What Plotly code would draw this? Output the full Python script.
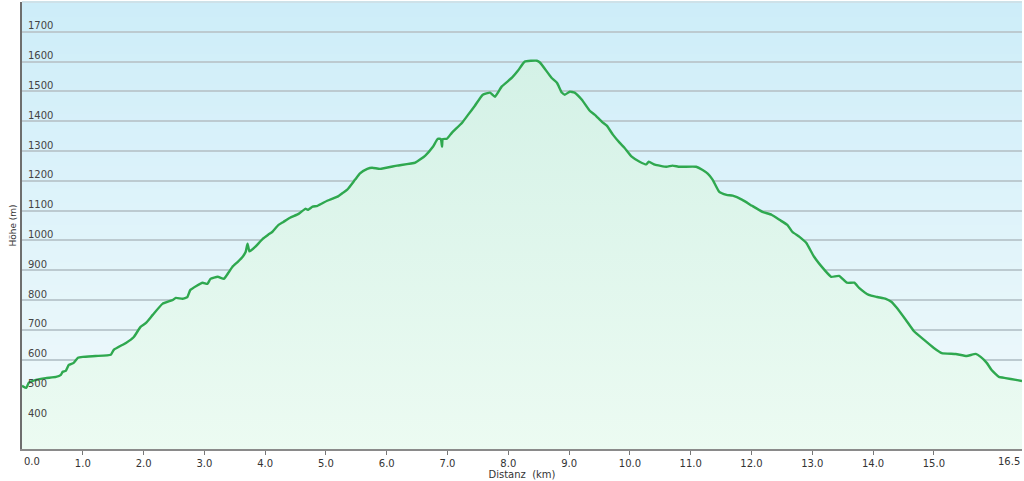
import plotly.graph_objects as go

distance_km = [
    0.00, 0.07, 0.11, 0.23, 0.39, 0.56, 0.64, 0.67, 0.72, 0.77, 0.85, 0.92, 1.00,
    1.21, 1.46, 1.51, 1.71, 1.84, 1.95, 2.04, 2.15, 2.31, 2.48, 2.53, 2.64, 2.72,
    2.77, 2.97, 3.05, 3.10, 3.22, 3.32, 3.35, 3.46, 3.55, 3.63, 3.68, 3.71, 3.74,
    3.76, 3.84, 3.96, 4.05, 4.12, 4.22, 4.30, 4.41, 4.55, 4.66, 4.71, 4.78, 4.86,
    5.02, 5.19, 5.28, 5.35, 5.48, 5.56, 5.68, 5.76, 5.89, 6.17, 6.47, 6.63, 6.76,
    6.84, 6.89, 6.91, 6.92, 6.99, 7.07, 7.24, 7.34, 7.45, 7.58, 7.70, 7.78, 7.89,
    8.06, 8.16, 8.27, 8.47, 8.52, 8.71, 8.80, 8.88, 8.93, 9.01, 9.09, 9.21, 9.34,
    9.42, 9.54, 9.62, 9.72, 9.83, 9.91, 10.03, 10.16, 10.27, 10.31, 10.41, 10.60,
    10.70, 10.82, 11.09, 11.19, 11.28, 11.36, 11.47, 11.59, 11.69, 11.85, 12.01,
    12.18, 12.33, 12.46, 12.59, 12.67, 12.79, 12.90, 13.03, 13.20, 13.31, 13.44,
    13.57, 13.69, 13.77, 13.93, 14.07, 14.21, 14.30, 14.39, 14.54, 14.67, 14.84,
    15.00, 15.13, 15.36, 15.54, 15.69, 15.77, 15.87, 15.95, 16.07, 16.18, 16.35,
    16.45,
]
elevation_m = [
    512, 505, 522, 532, 538, 542, 549, 559, 562, 582, 589, 606, 609,
    612, 616, 633, 656, 676, 710, 723, 750, 787, 800, 807, 804, 810,
    834, 858, 854, 871, 878, 871, 878, 911, 928, 945, 962, 989, 963,
    965, 979, 1005, 1019, 1029, 1052, 1062, 1076, 1089, 1106, 1103, 1113, 1116,
    1133, 1147, 1160, 1170, 1204, 1225, 1240, 1244, 1240, 1251, 1261, 1284, 1314,
    1341, 1340, 1314, 1340, 1341, 1361, 1395, 1422, 1452, 1489, 1496, 1482, 1516,
    1546, 1570, 1600, 1603, 1597, 1546, 1529, 1496, 1489, 1499, 1496, 1472, 1435,
    1422, 1398, 1385, 1355, 1328, 1311, 1281, 1264, 1255, 1264, 1254, 1247,
    1251, 1247, 1247, 1237, 1224, 1204, 1163, 1153, 1150, 1136, 1116,
    1096, 1086, 1069, 1052, 1029, 1012, 992, 945, 901, 878, 881,
    858, 858, 841, 817, 810, 804, 794, 774, 733, 696, 666,
    639, 622, 619, 612, 619, 609, 589, 565, 542, 538, 532,
    528,
]

x_tick_values = [float(v) for v in range(0, 16)]
x_tick_labels = [f"{v:.1f}" for v in x_tick_values]
x_end_value = 16.45
x_end_label = "16.5"
y_tick_values = list(range(400, 1800, 100))
y_tick_labels = [str(v) for v in y_tick_values]

X_RANGE = [0, 16.45]
Y_RANGE = [300, 1800]

fig = go.Figure()

fig.add_trace(go.Scatter(
    x=distance_km,
    y=elevation_m,
    mode="lines",
    line=dict(color="#2fa84f", width=2.4, shape="spline", smoothing=0.4),
    fill="tozeroy",
    fillgradient=dict(
        type="vertical",
        start=300,
        stop=1650,
        colorscale=[[0, "#ecfbf2"], [1, "#d3f1e6"]],
    ),
    hoverinfo="x+y",
    showlegend=False,
))

# background gradient (light blue at top fading toward the bottom)
def lerp(c1, c2, t):
    return "#%02x%02x%02x" % tuple(round(a + (b - a) * t) for a, b in zip(c1, c2))

top_c = (0xcd, 0xed, 0xf9)
bot_c = (0xf2, 0xfa, 0xfb)
n = 60
shapes = []
for i in range(n):
    y0 = i / n
    y1 = (i + 1) / n
    frac = (i + 0.5) / n
    shapes.append(dict(
        type="rect", xref="x domain", yref="y domain",
        x0=0, x1=1, y0=y0, y1=y1 + 0.002,
        fillcolor=lerp(bot_c, top_c, frac), line=dict(width=0), layer="below",
    ))
# top border
shapes.append(dict(type="line", xref="x domain", yref="y domain",
                   x0=0, x1=1, y0=1, y1=1, line=dict(color="#cfd6d9", width=1)))

# first and last x labels are drawn as annotations (edge labels)
edge_labels = [
    dict(text=x_tick_labels[0], x=x_tick_values[0], xanchor="left"),
    dict(text=x_end_label, x=x_end_value, xanchor="right"),
]
annotations = [
    dict(text=e["text"], xref="x", yref="paper", x=e["x"], y=0,
         xanchor=e["xanchor"], yanchor="top", yshift=-5, showarrow=False,
         font=dict(size=10, color="#333333"))
    for e in edge_labels
]

fig.update_layout(
    width=1024,
    height=481,
    margin=dict(l=22, r=2, t=2, b=32),
    paper_bgcolor="white",
    plot_bgcolor="#eef8fb",
    shapes=shapes,
    font=dict(family="DejaVu Sans, Verdana, sans-serif", size=10, color="#333333"),
    annotations=annotations,
)

fig.update_xaxes(
    range=X_RANGE,
    tickvals=x_tick_values,
    ticktext=[""] + x_tick_labels[1:],
    ticks="outside",
    ticklen=4,
    tickcolor="#777777",
    showgrid=False,
    zeroline=False,
    showline=True,
    linecolor="#8a8a8a",
    linewidth=2,
    automargin=False,
    title=dict(text="Distanz  (km)", standoff=2, font=dict(size=10)),
)

fig.update_yaxes(
    range=Y_RANGE,
    tickvals=y_tick_values,
    ticktext=y_tick_labels,
    ticklabelposition="inside top",
    ticklabelstandoff=4,
    ticklabelshift=1,
    ticks="",
    showgrid=True,
    gridcolor="#bccad0",
    gridwidth=1.5,
    zeroline=False,
    showline=True,
    linecolor="#6e6e6e",
    linewidth=2,
    automargin=False,
    layer="above traces",
    title=dict(text="Höhe (m)", standoff=10, font=dict(size=9)),
)

fig.write_html(
    "out.html",
    config={"displayModeBar": False},
    post_script="document.body.style.margin='0';document.body.style.padding='0';document.body.style.overflow='hidden';",
)
